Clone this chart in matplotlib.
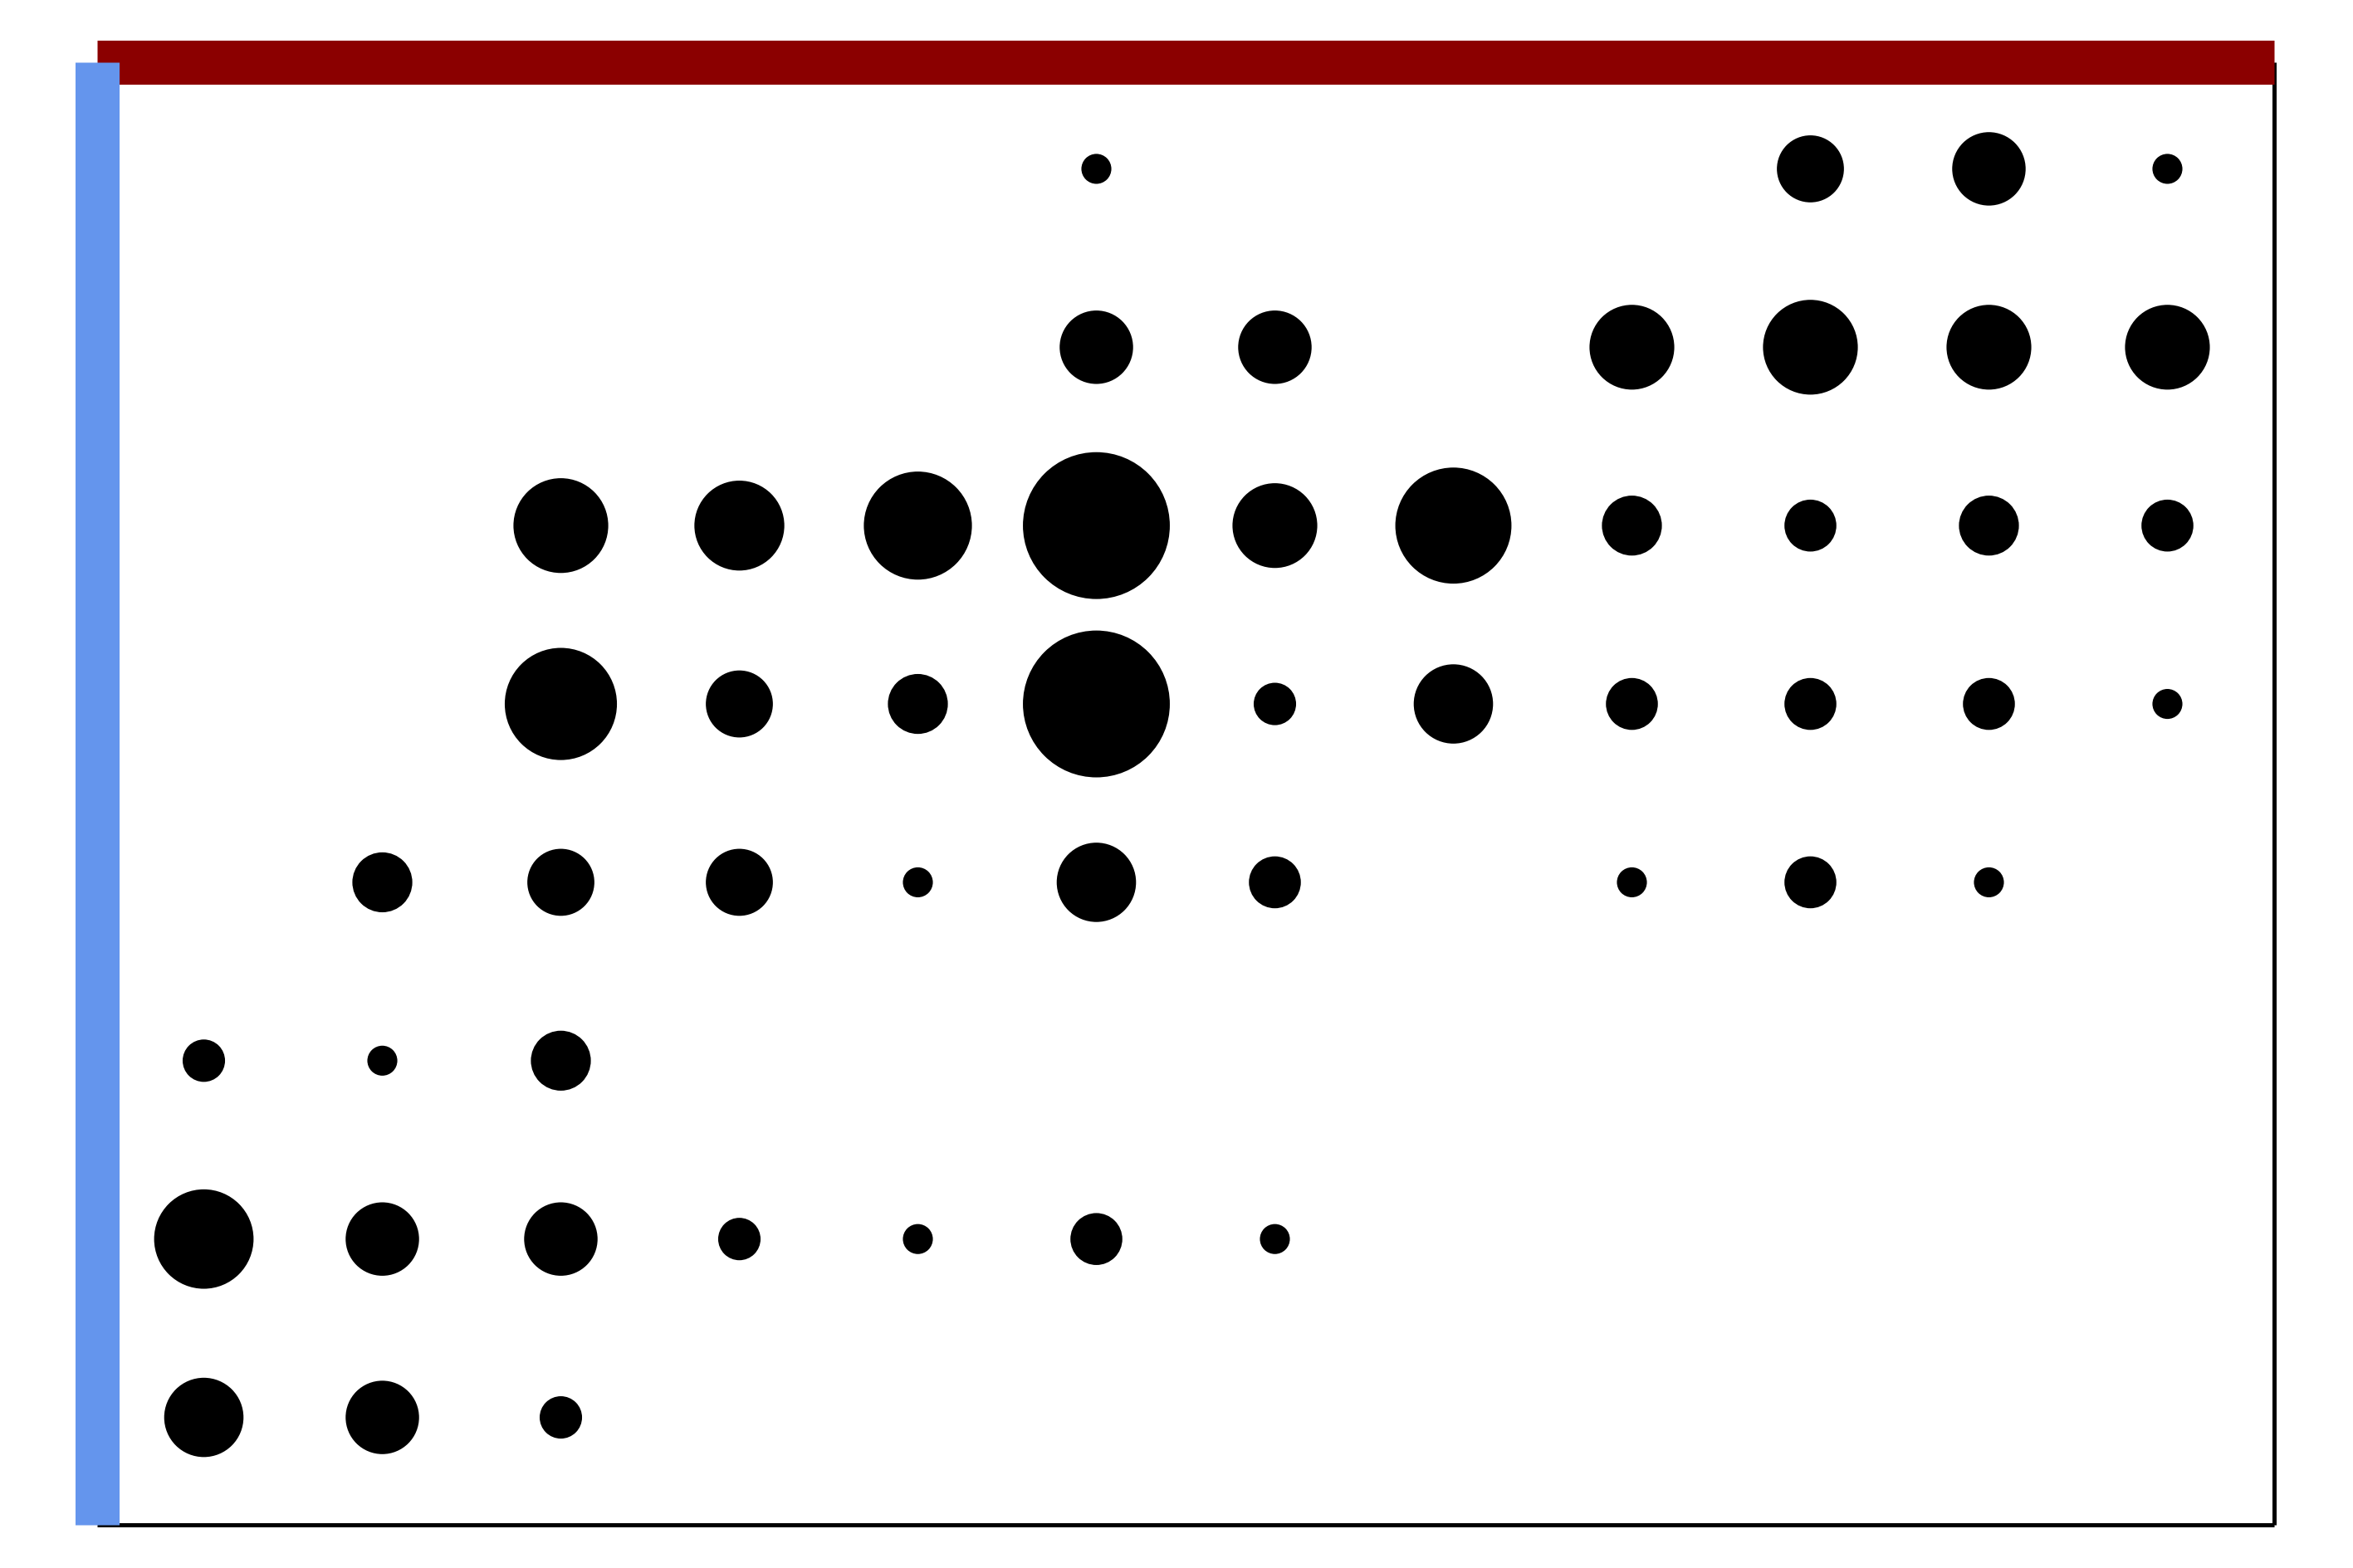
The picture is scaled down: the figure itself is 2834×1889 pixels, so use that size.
import matplotlib
matplotlib.use("Agg")
import matplotlib.pyplot as plt
import numpy as np

# grid of counts, one list per row (top row first), 0 = no dot
columns = list(range(12))
rows = list(range(8))
counts = [
	[0, 0, 0, 0, 0, 1, 0, 0, 0, 5, 6, 1],
	[0, 0, 0, 0, 0, 6, 6, 0, 8, 10, 8, 8],
	[0, 0, 10, 9, 13, 24, 8, 15, 4, 3, 4, 3],
	[0, 0, 14, 5, 4, 24, 2, 7, 3, 3, 3, 1],
	[0, 4, 5, 5, 1, 7, 3, 0, 1, 3, 1, 0],
	[2, 1, 4, 0, 0, 0, 0, 0, 0, 0, 0, 0],
	[11, 6, 6, 2, 1, 3, 1, 0, 0, 0, 0, 0],
	[7, 6, 2, 0, 0, 0, 0, 0, 0, 0, 0, 0],
]

DPI = 200
fig = plt.figure(figsize=(2834 / DPI, 1889 / DPI), dpi=DPI)
ax = fig.add_axes([0.04111, 0.02779, 0.96665 - 0.04111, 0.96056 - 0.02779])

xs, ys, vals = [], [], []
for r in rows:
	for c in columns:
		if counts[r][c] > 0:
			xs.append(c)
			ys.append(r)
			vals.append(counts[r][c])

unit = 13.0  # marker diameter (pt) for a count of 1
ax.scatter(xs, ys, s=np.array(vals) * unit ** 2, c="black", edgecolors="none")

ax.set_xlim(-0.6, 11.6)
ax.set_ylim(7.6, -0.6)
ax.set_xticks([])
ax.set_yticks([])

for side in ["right", "bottom"]:
	ax.spines[side].set_color("black")
	ax.spines[side].set_linewidth(1.8)
	ax.spines[side].set_capstyle("butt")
	ax.spines[side].set_zorder(2.5)
ax.spines["top"].set_color("#8B0000")
ax.spines["top"].set_linewidth(19.1)
ax.spines["top"].set_capstyle("butt")
ax.spines["top"].set_zorder(2.6)
ax.spines["left"].set_color("#6495ED")
ax.spines["left"].set_linewidth(19.1)
ax.spines["left"].set_capstyle("butt")
ax.spines["left"].set_zorder(2.7)

plt.savefig("out.png", dpi=DPI)
